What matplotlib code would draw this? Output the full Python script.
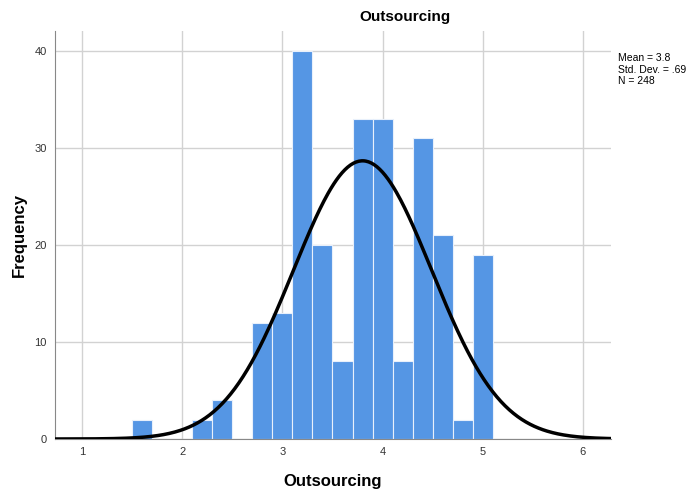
import numpy as np
import matplotlib.pyplot as plt

plt.rcParams['font.family'] = ['Liberation Sans', 'DejaVu Sans']

# histogram of Outsourcing scores (bin width 0.2)
bin_left = [1.5, 2.1, 2.3, 2.7, 2.9, 3.1, 3.3, 3.5, 3.7, 3.9, 4.1, 4.3, 4.5, 4.7, 4.9]
counts = [2, 2, 4, 12, 13, 40, 20, 8, 33, 33, 8, 31, 21, 2, 19]
bin_w = 0.2
mean, sd, n = 3.8, 0.69, 248

fig = plt.figure(figsize=(6.91, 4.97), dpi=100)
ax = fig.add_axes([55/691, 58/497, 556/691, 408/497])

ax.bar(bin_left, counts, width=bin_w, align='edge', color='#5596e4',
       edgecolor='#e8f0fb', linewidth=0.8, zorder=2)

xs = np.linspace(0.73, 6.28, 400)
ys = n * bin_w / (sd * np.sqrt(2 * np.pi)) * np.exp(-0.5 * ((xs - mean) / sd) ** 2)
ax.plot(xs, ys, color='black', linewidth=2.5, zorder=3)

ax.set_xlim(0.73, 6.28)
ax.set_ylim(0, 42.06)
ax.set_xticks([1, 2, 3, 4, 5, 6])
ax.set_yticks([0, 10, 20, 30, 40])
ax.grid(True, color='#d2d2d2', linewidth=1, zorder=0)
ax.set_axisbelow(True)
ax.tick_params(length=0, labelsize=8, colors='#333333', pad=6)
for s in ['top', 'right']:
    ax.spines[s].set_visible(False)
for s in ['left', 'bottom']:
    ax.spines[s].set_color('#888888')

ax.set_xlabel('Outsourcing', fontsize=12, fontweight='bold', labelpad=12)
ax.set_ylabel('Frequency', fontsize=12, fontweight='bold', labelpad=5)
fig.text(405/691, 1 - 17/497, 'Outsourcing', fontsize=11, fontweight='bold',
         ha='center', va='center')
fig.text(618/691, 1 - 53/497, 'Mean = 3.8\nStd. Dev. = .69\nN = 248',
         fontsize=7.5, va='top', ha='left', linespacing=1.2)

fig.savefig('out.png', dpi=100)
